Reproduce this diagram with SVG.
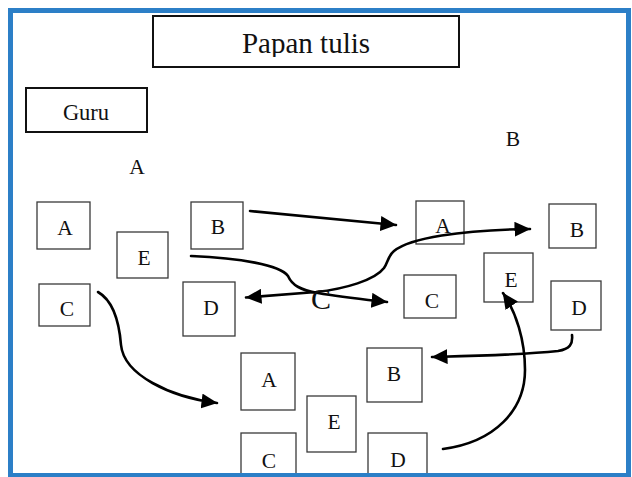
<svg xmlns="http://www.w3.org/2000/svg" width="632" height="477" viewBox="0 0 632 477">
  <style>
    .seat rect { fill: #fff; stroke: #3a3a3a; stroke-width: 1.3; }
    .label { font-family: "Liberation Serif", "Times New Roman", serif; font-size: 21.5px; fill: #111; text-anchor: middle; }
    .panel rect { fill: #fff; stroke: #111; stroke-width: 2; }
    .link { fill: none; stroke: #000; stroke-width: 2.6; stroke-linecap: round; }
  </style>
  <defs>
    <marker id="arrow" markerUnits="userSpaceOnUse" markerWidth="16" markerHeight="15" viewBox="0 0 16 15" refX="15.5" refY="7.5" orient="auto-start-reverse">
      <path d="M0,0 L16,7.5 L0,15 z" fill="#000"/>
    </marker>
    <clipPath id="boardClip">
      <rect x="153" y="16" width="306" height="41"/>
    </clipPath>
  </defs>

  <rect width="632" height="477" fill="#fff"/>

  <!-- board and teacher -->
  <g id="papan-tulis" class="panel">
    <rect x="153" y="16" width="306" height="51"/>
    <text x="306" y="53" clip-path="url(#boardClip)" style="font-family:'Liberation Serif','Times New Roman',serif;font-size:29px;fill:#111;text-anchor:middle">Papan tulis</text>
  </g>
  <g id="guru" class="panel">
    <rect x="26" y="88" width="121" height="44"/>
    <text class="label" x="86" y="120" style="font-size:22.5px">Guru</text>
  </g>

  <!-- group captions -->
  <text id="label-group-a" class="label" x="137" y="174">A</text>
  <text id="label-group-b" class="label" x="513" y="146">B</text>

  <!-- group A (left) -->
  <g id="a-A" class="seat"><rect x="37" y="202" width="53" height="47"/><text class="label" x="65" y="235">A</text></g>
  <g id="a-E" class="seat"><rect x="117" y="232" width="51" height="46"/><text class="label" x="144" y="265">E</text></g>
  <g id="a-B" class="seat"><rect x="191" y="202" width="52" height="47"/><text class="label" x="218" y="234">B</text></g>
  <g id="a-C" class="seat"><rect x="39" y="284" width="51" height="42"/><text class="label" x="67" y="316">C</text></g>
  <g id="a-D" class="seat"><rect x="183" y="282" width="52" height="54"/><text class="label" x="211" y="315">D</text></g>

  <!-- group B (right) -->
  <g id="b-A" class="seat"><rect x="416" y="201" width="48" height="43"/><text class="label" x="443" y="233">A</text></g>
  <g id="b-B" class="seat"><rect x="549" y="204" width="47" height="44"/><text class="label" x="577" y="237">B</text></g>
  <g id="b-E" class="seat"><rect x="484" y="253" width="49" height="49"/><text class="label" x="511" y="287">E</text></g>
  <g id="b-C" class="seat"><rect x="404" y="275" width="52" height="43"/><text class="label" x="432" y="308">C</text></g>
  <g id="b-D" class="seat"><rect x="551" y="281" width="50" height="49"/><text class="label" x="579" y="315">D</text></g>

  <!-- group C (bottom) -->
  <g id="c-A" class="seat"><rect x="241" y="353" width="54" height="57"/><text class="label" x="269" y="387">A</text></g>
  <g id="c-B" class="seat"><rect x="367" y="348" width="55" height="54"/><text class="label" x="394" y="381">B</text></g>
  <g id="c-E" class="seat"><rect x="307" y="396" width="49" height="56"/><text class="label" x="334" y="429">E</text></g>
  <g id="c-C" class="seat"><rect x="241" y="433" width="55" height="50"/><text class="label" x="269" y="468">C</text></g>
  <g id="c-D" class="seat"><rect x="368" y="433" width="59" height="50"/><text class="label" x="398" y="467">D</text></g>

  <!-- movement arrows -->
  <g id="connectors" class="link">
    <path d="M98,292 C112,300 119,320 121,345 C124,375 170,397 217,403" marker-end="url(#arrow)"/>
    <path d="M250,211 L396,225" marker-end="url(#arrow)"/>
    <path d="M191,256 C240,258 280,265 288,276 C292,285 300,290 318,293 C340,297 360,299 387,302" marker-end="url(#arrow)"/>
    <path d="M246,297.5 L316,292 C345,289 375,280 384,268 C388,262 388,256 394,251 C410,238 460,230 530,229" marker-start="url(#arrow)" marker-end="url(#arrow)"/>
    <path d="M572,335 C573,344 570,349 558,351 C520,355 470,356 432,357" marker-end="url(#arrow)"/>
    <path d="M443,449 C495,442 525,410 525,370 C525,340 516,312 503,293" marker-end="url(#arrow)"/>
  </g>

  <!-- group C caption -->
  <text id="label-group-c" x="321" y="309" style="font-family:'Liberation Serif','Times New Roman',serif;font-size:30px;fill:#111;text-anchor:middle">C</text>

  <!-- page frame -->
  <rect x="10.5" y="10.5" width="618" height="465" fill="none" stroke="#2C7FC7" stroke-width="5"/>
</svg>
